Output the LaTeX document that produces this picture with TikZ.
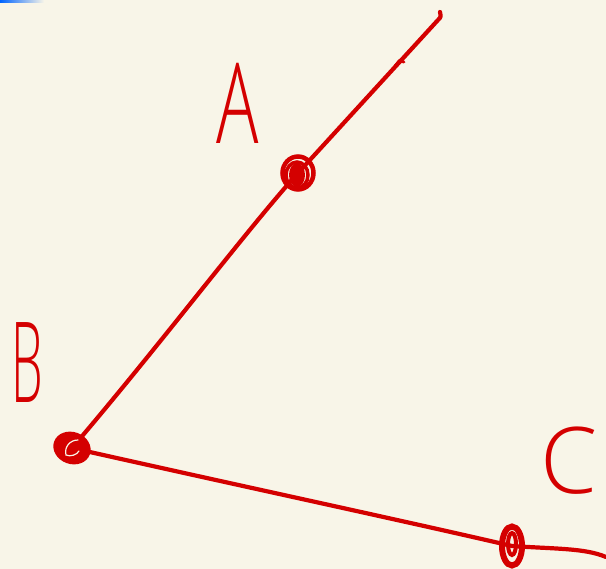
\documentclass[tikz,border=0pt]{standalone}
\usepackage{fontspec}
\usetikzlibrary{calc}
\newfontfamily\handfont{Open Sans}[UprightFont={* Light}]
\definecolor{bg}{RGB}{248,245,232}
\definecolor{pen}{RGB}{212,0,0}
\definecolor{tabblue}{RGB}{0,100,255}
\begin{document}
\begin{tikzpicture}[x=1pt,y=-1pt,
  penline/.style={draw=pen,line width=4.2pt,line cap=round,line join=round},
  handlabel/.style={text=pen,inner sep=0pt,font=\handfont\fontsize{112}{112}\selectfont}]
\fill[bg] (0,0) rectangle (606,569);
\useasboundingbox (0,0) rectangle (606,569);
\shade[left color=tabblue,right color=bg] (0,0) rectangle (44,3);
% points
\coordinate (A) at (298,173);
\coordinate (B) at (72,448);
\coordinate (C) at (512,546);
\coordinate (top) at (438,20);
\coordinate (hook) at (440,12);
\coordinate (rend) at (606,557);
% rays
\draw[penline] (B) .. controls (160,345) and (245,232) .. (A);
\draw[penline] (A) -- (top) .. controls (441,17) .. (hook);
\draw[penline] (B) .. controls (250,488) and (400,520) .. (C)
  .. controls (555,549) and (585,548) .. (rend);
\draw[pen,line width=2.8pt,line cap=round] (395,66) -- (399,61) -- (404,62);
% point A
\draw[pen,line width=4.5pt] (A) ellipse [x radius=15.5,y radius=16.5];
\draw[pen,line width=3.5pt] ($(A)+(-1,2)$) ellipse [x radius=11,y radius=13];
\fill[pen] ($(A)+(-1,2)$) ellipse [x radius=8,y radius=12];
% point B
\fill[pen,rotate around={-20:(B)}] (B) ellipse [x radius=19,y radius=16];
\draw[bg,line width=1.2pt,line cap=round] (78,440) .. controls (70,440) and (64,447) .. (66,455) .. controls (70,457) and (77,455) .. (79,451);
% point C
\draw[pen,line width=6pt] (C) ellipse [x radius=10,y radius=19.5];
\draw[pen,line width=4pt] ($(C)+(0,-2)$) ellipse [x radius=4,y radius=11];
% labels
\node[handlabel,xscale=0.63] (labA) at (238,103) {A};
\node[handlabel,xscale=0.45] (labB) at (27,363) {B};
\node[handlabel,font=\handfont\fontsize{92}{92}\selectfont] (labC) at (569,461) {C};
\end{tikzpicture}
\end{document}
